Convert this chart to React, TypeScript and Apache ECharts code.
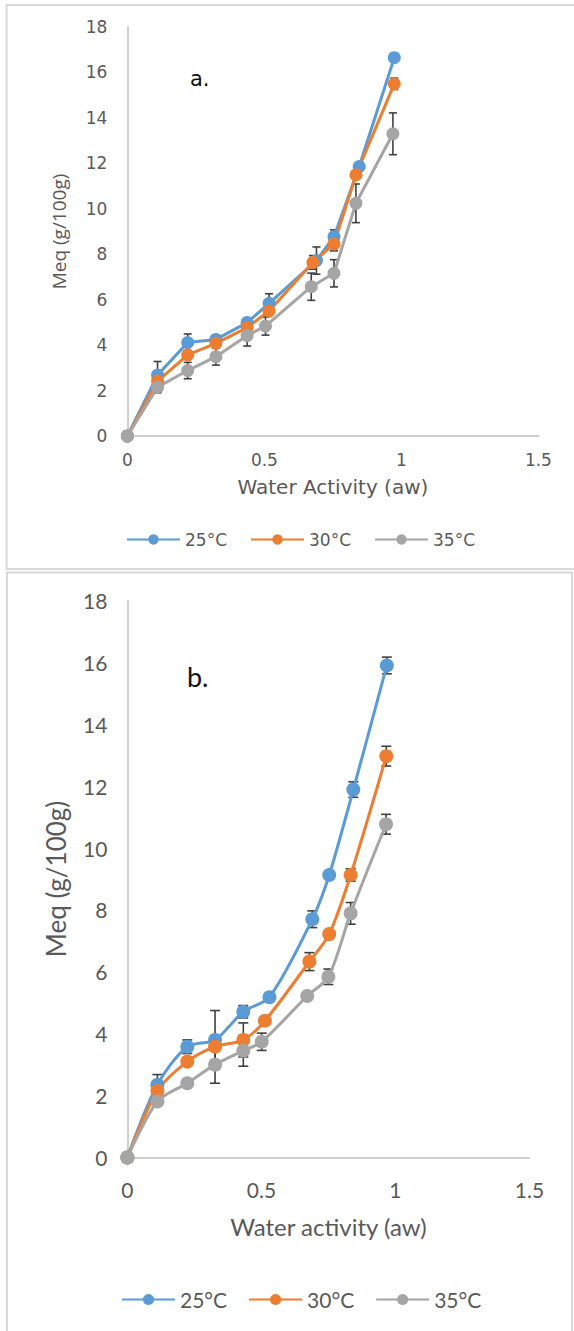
import React, { useEffect, useRef } from "react";
import * as echarts from "echarts";

// ---------- data ----------
const seriesNames = ["25°C", "30°C", "35°C"];
const seriesColors = ["#5B9BD5", "#ED7D31", "#A5A5A5"];

// Chart a.
const awA25 = [0, 0.11, 0.22, 0.323, 0.437, 0.517, 0.69, 0.754, 0.846, 0.974];
const meqA25 = [0, 2.68, 4.11, 4.25, 4.99, 5.84, 7.72, 8.77, 11.86, 16.65];
const errA25 = [0, 0.6, 0.38, 0.2, 0.2, 0.42, 0.6, 0.3, 0.15, 0.1];

const awA30 = [0, 0.11, 0.22, 0.323, 0.437, 0.517, 0.677, 0.754, 0.834, 0.974];
const meqA30 = [0, 2.42, 3.57, 4.08, 4.77, 5.5, 7.64, 8.45, 11.49, 15.5];
const errA30 = [0, 0.15, 0.15, 0.15, 0.15, 0.15, 0.3, 0.3, 0.15, 0.25];

const awA35 = [0, 0.11, 0.22, 0.323, 0.437, 0.504, 0.671, 0.754, 0.834, 0.969];
const meqA35 = [0, 2.15, 2.88, 3.49, 4.42, 4.84, 6.57, 7.16, 10.24, 13.3];
const errA35 = [0, 0.25, 0.36, 0.37, 0.46, 0.4, 0.6, 0.6, 0.85, 0.92];

// Chart b.
const awB25 = [0, 0.112, 0.2235, 0.327, 0.4325, 0.53, 0.69, 0.753, 0.843, 0.968];
const meqB25 = [0, 2.35, 3.58, 3.8, 4.71, 5.18, 7.7, 9.13, 11.89, 15.9];
const errB25 = [0, 0.33, 0.22, 0.95, 0.2, 0.1, 0.27, 0.1, 0.25, 0.27];

const awB30 = [0, 0.112, 0.2235, 0.327, 0.4325, 0.513, 0.679, 0.753, 0.833, 0.966];
const meqB30 = [0, 2.15, 3.1, 3.58, 3.8, 4.42, 6.33, 7.22, 9.13, 12.97];
const errB30 = [0, 0.1, 0.1, 0.1, 0.55, 0.1, 0.29, 0.1, 0.2, 0.32];

const awB35 = [0, 0.112, 0.2235, 0.327, 0.4325, 0.501, 0.671, 0.75, 0.833, 0.965];
const meqB35 = [0, 1.81, 2.4, 3.0, 3.45, 3.74, 5.22, 5.84, 7.89, 10.77];
const errB35 = [0, 0.1, 0.1, 0.6, 0.5, 0.28, 0.1, 0.25, 0.35, 0.32];

const xAxisTitleA = "Water Activity (aw)";
const xAxisTitleB = "Water activity (aw)";
const yAxisTitle = "Meq (g/100g)";

// ---------- helpers ----------
const fontA = "'DejaVu Sans', 'Open Sans', sans-serif";
const fontAy = "'Open Sans', 'Noto Sans', sans-serif";
const fontB = "Lato, 'Open Sans', sans-serif";
const textGray = "#595959";
const axisGray = "#CFCFCF";

function pairs(x: number[], y: number[]) {
  return x.map((v, i) => [v, y[i]]);
}
function triples(x: number[], y: number[], e: number[]) {
  return x.map((v, i) => [v, y[i], e[i]]);
}

function errRender(capHalf: number) {
  return (_params: any, api: any) => {
    const x = api.value(0);
    const y = api.value(1);
    const e = api.value(2);
    if (!e) return { type: "group", children: [] };
    const top = api.coord([x, y + e]);
    const bot = api.coord([x, y - e]);
    const style = { stroke: "#404040", lineWidth: 1.6 };
    return {
      type: "group",
      children: [
        { type: "line", shape: { x1: top[0], y1: top[1], x2: bot[0], y2: bot[1] }, style },
        { type: "line", shape: { x1: top[0] - capHalf, y1: top[1], x2: top[0] + capHalf, y2: top[1] }, style },
        { type: "line", shape: { x1: bot[0] - capHalf, y1: bot[1], x2: bot[0] + capHalf, y2: bot[1] }, style },
      ],
    };
  };
}

export default function App() {
  const ref = useRef<HTMLDivElement>(null);

  useEffect(() => {
    document.body.style.margin = "0";
    if (!ref.current) return;
    const chart = echarts.init(ref.current, undefined, { renderer: "svg" });

    const setA = [
      { x: awA25, y: meqA25, e: errA25 },
      { x: awA30, y: meqA30, e: errA30 },
      { x: awA35, y: meqA35, e: errA35 },
    ];
    const setB = [
      { x: awB25, y: meqB25, e: errB25 },
      { x: awB30, y: meqB30, e: errB30 },
      { x: awB35, y: meqB35, e: errB35 },
    ];

    const series: any[] = [];
    setA.forEach((s) => {
      series.push({
        type: "custom",
        xAxisIndex: 0,
        yAxisIndex: 0,
        z: 1,
        renderItem: errRender(4),
        data: triples(s.x, s.y, s.e),
        silent: true,
      });
    });
    setB.forEach((s) => {
      series.push({
        type: "custom",
        xAxisIndex: 1,
        yAxisIndex: 1,
        z: 1,
        renderItem: errRender(5),
        data: triples(s.x, s.y, s.e),
        silent: true,
      });
    });
    setA.forEach((s, i) => {
      series.push({
        name: seriesNames[i],
        type: "line",
        xAxisIndex: 0,
        yAxisIndex: 0,
        z: 2,
        data: pairs(s.x, s.y),
        symbol: "circle",
        symbolSize: 13,
        showSymbol: true,
        lineStyle: { color: seriesColors[i], width: 3 },
        itemStyle: { color: seriesColors[i] },
      });
    });
    setB.forEach((s, i) => {
      series.push({
        name: seriesNames[i],
        type: "line",
        xAxisIndex: 1,
        yAxisIndex: 1,
        z: 2,
        smooth: 0.3,
        data: pairs(s.x, s.y),
        symbol: "circle",
        symbolSize: 14,
        showSymbol: true,
        lineStyle: { color: seriesColors[i], width: 3 },
        itemStyle: { color: seriesColors[i] },
      });
    });

    const xAxisBase = (font: string, size: number, name: string, nameSize: number, nameGap: number, margin: number) => ({
      type: "value",
      min: 0,
      max: 1.5,
      interval: 0.5,
      name,
      nameLocation: "middle",
      nameGap,
      nameTextStyle: { fontFamily: font, fontSize: nameSize, color: textGray },
      axisLine: { show: true, onZero: false, lineStyle: { color: axisGray, width: 2 } },
      axisTick: { show: false },
      splitLine: { show: false },
      axisLabel: { fontFamily: font, fontSize: size, color: textGray, margin },
    });
    const yAxisBase = (font: string, nameFont: string, size: number, nameSize: number, nameGap: number) => ({
      type: "value",
      min: 0,
      max: 18,
      interval: 2,
      name: yAxisTitle,
      nameLocation: "middle",
      nameRotate: 90,
      nameGap,
      nameTextStyle: { fontFamily: nameFont, fontSize: nameSize, color: textGray },
      axisLine: { show: true, lineStyle: { color: axisGray, width: 2 } },
      axisTick: { show: false },
      splitLine: { show: false },
      axisLabel: { fontFamily: font, fontSize: size, color: textGray, margin: 20 },
    });

    const option: any = {
      animation: false,
      backgroundColor: "#ffffff",
      grid: [
        { left: 127.4, top: 27, width: 411, height: 409 },
        { left: 127.4, top: 600.5, width: 402, height: 557 },
      ],
      xAxis: [
        { ...xAxisBase(fontA, 17, xAxisTitleA, 20, 41, 15), gridIndex: 0 },
        { ...xAxisBase(fontB, 21, xAxisTitleB, 24, 57, 21), gridIndex: 1 },
      ],
      yAxis: [
        { ...yAxisBase(fontA, fontAy, 17, 19, 59), gridIndex: 0 },
        { ...yAxisBase(fontB, fontB, 21, 26, 58), gridIndex: 1 },
      ],
      legend: [
        {
          data: seriesNames,
          left: 121,
          top: 526,
          itemWidth: 53,
          itemHeight: 13,
          itemGap: 23,
          textStyle: { fontFamily: fontA, fontSize: 17, color: textGray },
        },
        {
          data: seriesNames,
          left: 116,
          top: 1284,
          itemWidth: 53,
          itemHeight: 14,
          itemGap: 21,
          textStyle: { fontFamily: fontB, fontSize: 21, color: textGray },
        },
      ],
      graphic: [
        {
          type: "rect",
          shape: { x: 6.6, y: 5, width: 580, height: 564 },
          style: { fill: "none", stroke: "#D9D9D9", lineWidth: 2 },
          silent: true,
        },
        {
          type: "rect",
          shape: { x: 7, y: 572.5, width: 565, height: 780 },
          style: { fill: "none", stroke: "#D9D9D9", lineWidth: 2 },
          silent: true,
        },
        {
          type: "text",
          x: 190,
          y: 79,
          style: { text: "a.", fontFamily: fontA, fontSize: 21, fill: "#111111", verticalAlign: "middle" },
        },
        {
          type: "text",
          x: 187,
          y: 676,
          style: { text: "b.", fontFamily: fontB, fontSize: 27, fill: "#111111", verticalAlign: "middle" },
        },
      ],
      series,
    };

    chart.setOption(option);
    return () => chart.dispose();
  }, []);

  return <div ref={ref} style={{ width: 574, height: 1331 }} />;
}
